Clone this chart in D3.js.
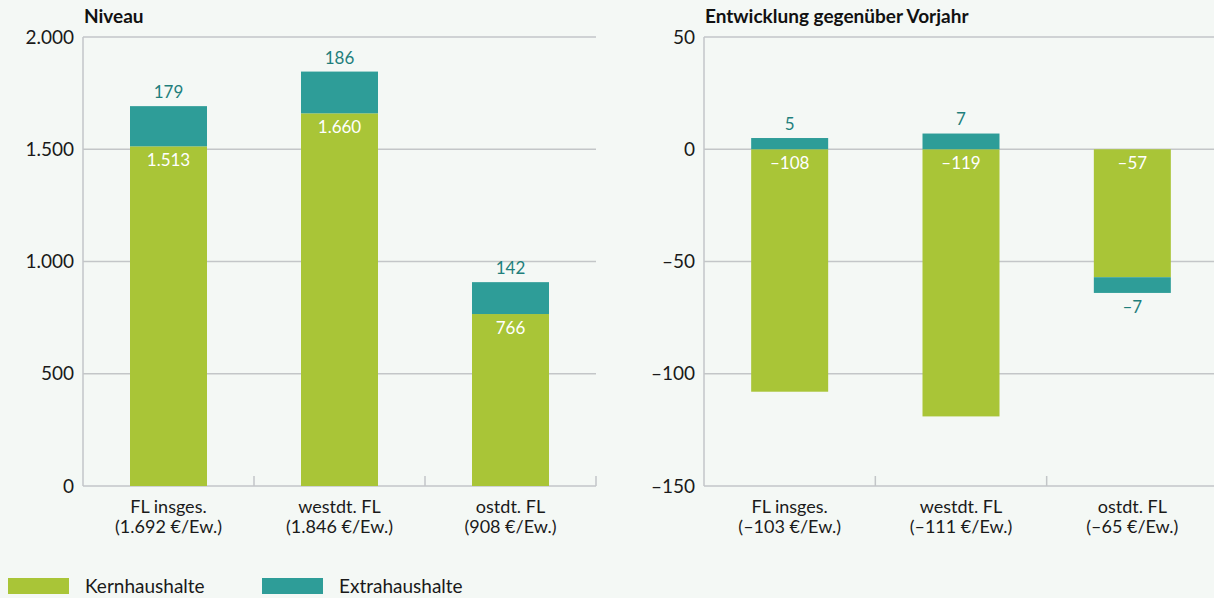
<!DOCTYPE html>
<html><head><meta charset="utf-8">
<script src="https://cdn.jsdelivr.net/npm/d3@7"></script>
<style>
html,body{margin:0;padding:0;background:#f4f8f5;}
svg{display:block;font-family:Lato,"Open Sans",sans-serif;}
</style></head>
<body><svg id="c" width="1214" height="598"></svg>
<script>
const categories = ["FL insges.","westdt. FL","ostdt. FL"];
const levelSub = ["(1.692 €/Ew.)","(1.846 €/Ew.)","(908 €/Ew.)"];
const changeSub = ["(–103 €/Ew.)","(–111 €/Ew.)","(–65 €/Ew.)"];
const levelKern = [1513,1660,766];
const levelExtra = [179,186,142];
const changeKern = [-108,-119,-57];
const changeExtra = [5,7,-7];
const levelTicks = [0,500,1000,1500,2000];
const changeTicks = [-150,-100,-50,0,50];
const seriesNames = ["Kernhaushalte","Extrahaushalte"];
const colors = ["#a9c537","#2e9d98"];
const labelTeal = "#1f7f7c";

const loc = d3.formatLocale({decimal:",",thousands:".",grouping:[3],currency:["","€"],minus:"–"});
const fmt = loc.format(",d");

const svg = d3.select("#c");
const plotTop = 37, plotBottom = 486;
const TFS = 19, CFS = 18, VFS = 17;

function panel(x0, x1, domain, ticks, title, kern, extra, subs){
  const g = svg.append("g");
  const y = d3.scaleLinear().domain(domain).range([plotBottom, plotTop]);
  const x = d3.scaleBand().domain(categories).range([x0, x1]).paddingInner(0).paddingOuter(0);
  g.selectAll(".grid").data(ticks).join("line")
    .attr("x1", x0).attr("x2", x1).attr("y1", d=>y(d)).attr("y2", d=>y(d))
    .attr("stroke","#c3c6c8").attr("stroke-width",1.5);
  g.append("line").attr("x1",x0).attr("x2",x0).attr("y1",plotTop).attr("y2",plotBottom)
    .attr("stroke","#c3c6c8").attr("stroke-width",1.5);
  g.selectAll(".tl").data(ticks).join("text")
    .attr("x", x0-9).attr("y", d=>y(d)).attr("dy","0.35em")
    .attr("text-anchor","end").attr("font-size",TFS).attr("fill","#1a1a1a")
    .text(d=>fmt(d));
  const bounds = categories.map(c=>x(c)).concat([x1]).slice(1);
  g.selectAll(".bt").data(bounds).join("line")
    .attr("x1",d=>d).attr("x2",d=>d).attr("y1",plotBottom).attr("y2",plotBottom-10)
    .attr("stroke","#c3c6c8").attr("stroke-width",1.5);
  g.append("text").attr("x", x0+1).attr("y", 23).attr("font-size",TFS).attr("font-weight","bold")
    .attr("fill","#111").text(title);
  const bw = 77;
  const bx = c => x(c) + x.bandwidth()/2 - bw/2;
  categories.forEach((c,i)=>{
    const k = kern[i], e = extra[i];
    g.append("rect").attr("x",bx(c)).attr("width",bw)
      .attr("y", y(Math.max(0,k))).attr("height", Math.abs(y(k)-y(0)))
      .attr("fill",colors[0]);
    let e0, e1;
    if (e >= 0) { e0 = Math.max(0,k); e1 = e0 + e; } else { e0 = Math.min(0,k); e1 = e0 + e; }
    g.append("rect").attr("x",bx(c)).attr("width",bw)
      .attr("y", y(Math.max(e0,e1))).attr("height", Math.abs(y(e1)-y(e0)))
      .attr("fill",colors[1]);
    const cx = x(c)+x.bandwidth()/2;
    const kStart = k>=0 ? y(k) : y(0);
    g.append("text").attr("x",cx).attr("y", kStart+14).attr("dy","0.35em")
      .attr("text-anchor","middle").attr("font-size",VFS).attr("fill","#fff").text(fmt(k));
    const eEdge = y(e1);
    g.append("text").attr("x",cx).attr("y", e>=0 ? eEdge-14 : eEdge+14).attr("dy","0.35em")
      .attr("text-anchor","middle").attr("font-size",VFS).attr("fill",labelTeal).text(fmt(e));
    g.append("text").attr("x",cx).attr("y",512.5).attr("text-anchor","middle")
      .attr("font-size",CFS).attr("fill","#1a1a1a").text(c);
    g.append("text").attr("x",cx).attr("y",533).attr("text-anchor","middle")
      .attr("font-size",CFS).attr("fill","#1a1a1a").text(subs[i]);
  });
}

panel(83, 596, [0,2000], levelTicks, "Niveau", levelKern, levelExtra, levelSub);
panel(704, 1218, [-150,50], changeTicks, "Entwicklung gegenüber Vorjahr", changeKern, changeExtra, changeSub);

const leg = svg.append("g");
const lx = [8, 262];
seriesNames.forEach((n,i)=>{
  leg.append("rect").attr("x",lx[i]).attr("y",578).attr("width",61).attr("height",16).attr("fill",colors[i]);
  leg.append("text").attr("x",lx[i]+77).attr("y",586).attr("dy","0.35em").attr("font-size",TFS)
    .attr("fill","#1a1a1a").text(n);
});
</script></body></html>
